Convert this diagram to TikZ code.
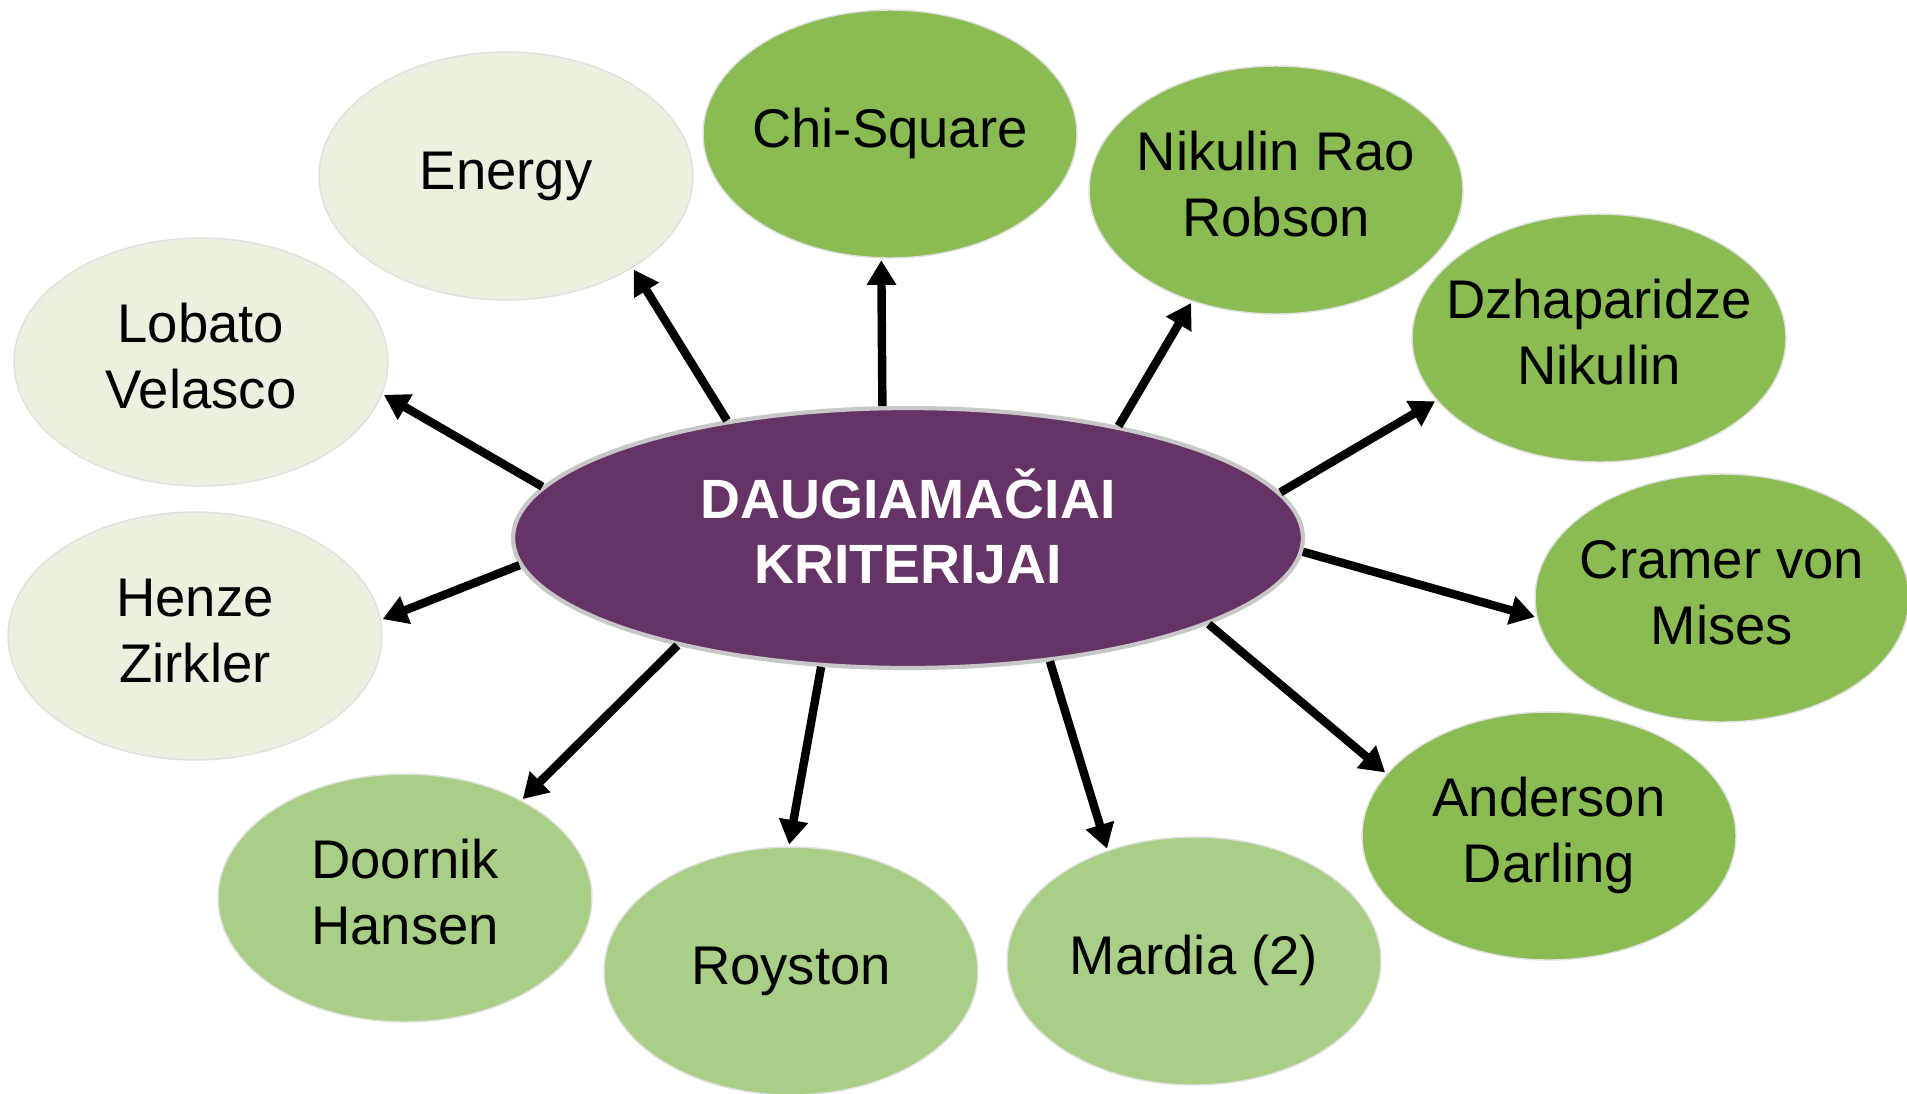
\documentclass[tikz,border=0pt]{standalone}
\usepackage{fontspec}
\setmainfont{Liberation Sans}
\usetikzlibrary{arrows.meta,shapes.geometric}
\definecolor{plum}{RGB}{102,51,102}
\definecolor{leafdark}{RGB}{139,188,83}
\definecolor{leafmid}{RGB}{169,207,134}
\definecolor{leafpale}{RGB}{234,241,222}
\newcommand{\ovaltext}[1]{\makebox[0pt]{\begin{tabular}{@{}c@{}}#1\end{tabular}}}
\tikzset{
    oval/.style={ellipse, inner sep=0pt, minimum width=7.48cm, minimum height=4.96cm,
                 draw=black!12, line width=0.8pt, font=\fontsize{31}{37.5}\selectfont},
    pale/.style={oval, fill=leafpale},
    medium/.style={oval, fill=leafmid},
    strong/.style={oval, fill=leafdark},
    hub/.style={ellipse, inner sep=0pt, minimum width=15.8cm, minimum height=5.2cm,
                fill=plum, draw=black!22, line width=2.4pt, text=white,
                font=\bfseries\fontsize{31.5}{37}\selectfont},
    link/.style={-{Triangle[length=14pt,width=16pt]}, line width=4.8pt, shorten >=1pt}
}

\begin{document}
\begin{tikzpicture}
  [
    x = 0.02cm,
    y = -0.02cm,
  ]
  \useasboundingbox (0,0) rectangle (1907,1093);

  % outer criteria
  \node [pale]   (energy)   at (506,176)  {\ovaltext{Energy}};
  \node [strong] (chi)      at (890,134)  {\ovaltext{Chi-Square}};
  \node [strong] (nikulin)  at (1276,190) {\ovaltext{Nikulin Rao\\Robson}};
  \node [strong] (dzhap)    at (1599,338) {\ovaltext{Dzhaparidze\\Nikulin}};
  \node [strong] (cramer)   at (1722,598) {\ovaltext{Cramer von\\Mises}};
  \node [strong] (anderson) at (1549,836) {\ovaltext{Anderson\\Darling}};
  \node [medium] (mardia)   at (1194,961) {\ovaltext{Mardia (2)}};
  \node [medium] (royston)  at (791,971)  {\ovaltext{Royston}};
  \node [medium] (doornik)  at (405,898)  {\ovaltext{Doornik\\Hansen}};
  \node [pale]   (henze)    at (195,636)  {\ovaltext{Henze\\Zirkler}};
  \node [pale]   (lobato)   at (201,362)  {\ovaltext{Lobato\\Velasco}};

  % centre
  \node [hub] (hub) at (908,538)
    {\raisebox{1.3pt}[\height][\depth]{\begin{tabular}{@{}c@{}}DAUGIAMAČIAI\\KRITERIJAI\end{tabular}}};

  \draw [link] (hub.147.6)  -- (energy.-36.5);
  \draw [link] (hub.101.8)  -- (chi.-94.5);
  \draw [link] (hub.28.9)   -- (nikulin.-127.4);
  \draw [link] (hub.7.0)    -- (dzhap.-159.3);
  \draw [link] (hub.-2.6)   -- (cramer.-174.0);
  \draw [link] (hub.-16.7)  -- (anderson.159.9);
  \draw [link] (hub.-41.2)  -- (mardia.128.7);
  \draw [link] (hub.-124.8) -- (royston.91.1);
  \draw [link] (hub.-155.0) -- (doornik.40.6);
  \draw [link] (hub.184.4)  -- (henze.5.9);
  \draw [link] (hub.172.5)  -- (lobato.-10.6);
\end{tikzpicture}
\end{document}
